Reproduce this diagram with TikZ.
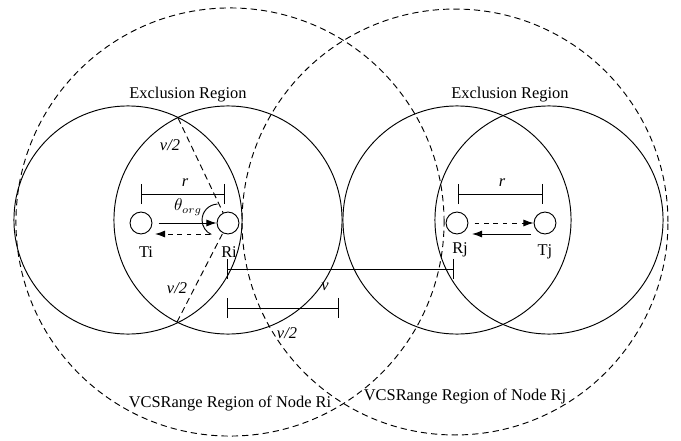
\documentclass[tikz,border=0pt]{standalone}
\usepackage{fontspec}
\setmainfont{Liberation Serif}
\usetikzlibrary{arrows.meta,calc}

\tikzset{
  station/.style={draw,circle,minimum size=14pt,inner sep=0pt},
  vcsline/.style={dash pattern=on 4pt off 2.6pt},
  dimbar/.style={{Bar[width=13pt]}-{Bar[width=13pt]}},
  sendtip/.style={-{Latex[length=6.5pt,width=4.5pt]}},
}

\begin{document}
\begin{tikzpicture}[x=0.64pt,y=0.64pt,line width=0.6pt,font=\fontsize{10.5}{12}\selectfont]
\useasboundingbox (0,0) rectangle (681,440);

% exclusion regions
\draw (128,220) circle[radius=73pt];
\draw (228,220) circle[radius=73pt];
\draw (457,220) circle[radius=73pt];
\draw (549,220) circle[radius=73pt];

% VCS range regions
\draw[vcsline] (230,218) circle[radius=137pt];
\draw[vcsline] (455,218) circle[radius=136.3pt];

\node[station] (Ti) at (141,217) {};
\node[station] (Ri) at (228,217) {};
\node[station] (Rj) at (457,217) {};
\node[station] (Tj) at (545,217) {};

\node at (146,188) {Ti};
\node at (229,188) {Ri};
\node at (460,190) {Rj};
\node at (545,188) {Tj};

% transmissions
\draw[sendtip] ([xshift=4pt]Ti.east) -- (Ri.west);
\draw[sendtip,dashed] ($(Ri)+(-18,-11)$) -- ($(Ti)+(14,-11)$);
\draw[sendtip,dashed] ([xshift=4pt]Rj.east) -- (Tj.west);
\draw[sendtip] ($(Tj)+(-14,-11)$) -- ($(Rj)+(15,-11)$);

% v/2 chords
\coordinate (up) at (178,322);
\coordinate (down) at (177,118);
\draw[vcsline] (up) -- (Ri);
\draw[vcsline] (down) -- (Ri);

% angle
\coordinate (ang) at (218,220);
\draw (ang) ++(92:10.2pt) arc[start angle=92,end angle=245,radius=10.2pt];
\node at (188,233) {$\theta_{org}$};

% distances
\draw[dimbar] (141,246) -- (225,246);
\draw[dimbar] (458,246) -- (543,246);
\draw[dimbar] (227,171) -- (454,171);
\draw[dimbar] (227,132) -- (339,132);

\node at (185,257) {\textit{r}};
\node at (502,257) {\textit{r}};
\node at (325,153) {\textit{v}};
\node at (170,295) {\textit{v/2}};
\node at (177,152) {\textit{v/2}};
\node at (287,107) {\textit{v/2}};

\node at (188,345) {Exclusion Region};
\node at (510,345) {Exclusion Region};
\node at (230,37) {VCSRange Region of Node Ri};
\node at (465,44) {VCSRange Region of Node Rj};

\end{tikzpicture}
\end{document}
